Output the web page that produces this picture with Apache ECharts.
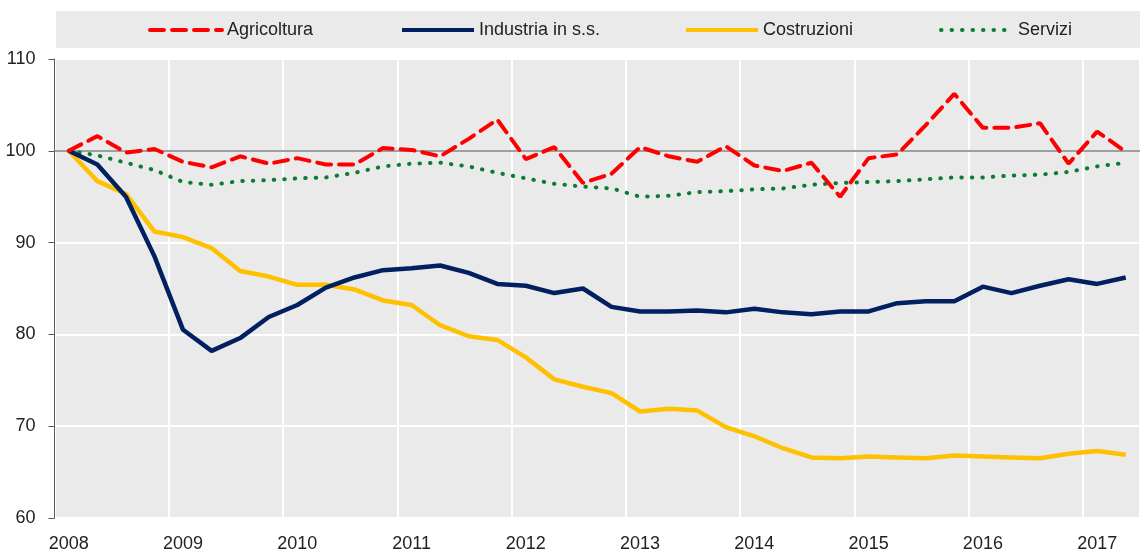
<!DOCTYPE html>
<html>
<head>
<meta charset="utf-8">
<script src="https://cdn.jsdelivr.net/npm/echarts@6/dist/echarts.min.js"></script>
<style>
  html, body { margin: 0; padding: 0; background: #fff; }
  #chart { width: 1140px; height: 553px; }
</style>
</head>
<body>
<div id="chart"></div>
<script>
// trimestri 2008T1 - 2017T2
const years = ['2008', '2009', '2010', '2011', '2012', '2013', '2014', '2015', '2016', '2017'];
const quarters = [];
years.forEach(y => {
  for (let q = 1; q <= 4; q++) {
    if (y === '2017' && q > 2) break;
    quarters.push(y + 'T' + q);
  }
});

const seriesNames = ['Agricoltura', 'Industria in s.s.', 'Costruzioni', 'Servizi'];

const agricoltura = [100, 101.6, 99.8, 100.2, 98.8, 98.2, 99.4, 98.6, 99.2, 98.5, 98.5, 100.3,
  100.1, 99.4, 101.3, 103.4, 99.1, 100.4, 96.5, 97.5, 100.4, 99.4, 98.8, 100.5,
  98.4, 97.8, 98.7, 95.0, 99.2, 99.6, 102.8, 106.2, 102.5, 102.5, 103.0, 98.6,
  102.1, 99.9];
const industria = [100, 98.5, 95.0, 88.5, 80.5, 78.2, 79.6, 81.9, 83.2, 85.1, 86.2, 87.0,
  87.2, 87.5, 86.7, 85.5, 85.3, 84.5, 85.0, 83.0, 82.5, 82.5, 82.6, 82.4,
  82.8, 82.4, 82.2, 82.5, 82.5, 83.4, 83.6, 83.6, 85.2, 84.5, 85.3, 86.0,
  85.5, 86.2];
const costruzioni = [100, 96.7, 95.3, 91.2, 90.6, 89.4, 86.9, 86.3, 85.4, 85.4, 84.9, 83.7,
  83.2, 81.0, 79.8, 79.4, 77.5, 75.1, 74.3, 73.6, 71.6, 71.9, 71.7, 69.9,
  68.9, 67.6, 66.6, 66.5, 66.7, 66.6, 66.5, 66.8, 66.7, 66.6, 66.5, 67.0,
  67.3, 66.9];
const servizi = [100, 99.5, 98.7, 97.9, 96.6, 96.3, 96.7, 96.8, 97.0, 97.1, 97.6, 98.3,
  98.6, 98.7, 98.3, 97.6, 97.0, 96.4, 96.1, 95.9, 95.0, 95.1, 95.5, 95.6,
  95.8, 95.9, 96.3, 96.5, 96.6, 96.7, 96.9, 97.1, 97.1, 97.3, 97.4, 97.7,
  98.3, 98.7];

const font = '"Liberation Sans Narrow", "Arial Narrow", "Liberation Sans", sans-serif';
const chart = echarts.init(document.getElementById('chart'));

// una legenda per voce, per posizionarle come nell'originale
const legendLeft = [148, 400, 684, 939];
const legends = seriesNames.map((name, i) => ({
  left: legendLeft[i],
  top: 21,
  padding: 0,
  itemWidth: 72,
  itemHeight: 14,
  itemStyle: { opacity: 0 },
  lineStyle: { width: 4 },
  textStyle: { fontFamily: font, fontSize: 18, color: '#222' },
  data: [name]
}));

chart.setOption({
  animation: false,
  textStyle: { fontFamily: font },
  graphic: [{
    type: 'rect',
    shape: { x: 56, y: 11, width: 1090, height: 37 },
    style: { fill: '#eaeaea' },
    silent: true,
    z: -1
  }],
  legend: legends,
  grid: {
    left: 54.5,
    right: -12,
    top: 59,
    bottom: 34,
    show: true,
    backgroundColor: '#eaeaea',
    borderWidth: 0
  },
  xAxis: {
    type: 'category',
    data: quarters,
    boundaryGap: true,
    axisLine: { show: false },
    axisTick: { show: false },
    axisLabel: {
      interval: (i) => i % 4 === 0,
      formatter: (v) => v.slice(0, 4),
      fontFamily: font,
      fontSize: 18,
      color: '#222',
      margin: 17
    },
    splitLine: {
      show: true,
      interval: (i) => i % 4 === 0,
      lineStyle: { color: '#ffffff', width: 2 }
    }
  },
  yAxis: {
    type: 'value',
    min: 60,
    max: 110,
    interval: 10,
    axisLine: { show: true, lineStyle: { color: '#595959', width: 1 } },
    axisTick: { show: true, length: 6, lineStyle: { color: '#595959' } },
    axisLabel: { fontFamily: font, fontSize: 18, color: '#222', margin: 19 },
    splitLine: { show: true, lineStyle: { color: '#ffffff', width: 2 } }
  },
  series: [
    {
      name: seriesNames[0],
      type: 'line',
      data: agricoltura,
      symbol: 'none',
      lineStyle: { color: '#ff0000', width: 4, type: [14, 8], cap: 'round' },
      itemStyle: { color: '#ff0000' },
      z: 5,
      markLine: {
        silent: true,
        symbol: 'none',
        label: { show: false },
        lineStyle: { color: '#7f7f7f', width: 1.5, type: 'solid' },
        data: [{ yAxis: 100 }],
        z: 1
      }
    },
    {
      name: seriesNames[1],
      type: 'line',
      data: industria,
      symbol: 'none',
      lineStyle: { color: '#002060', width: 4.5 },
      itemStyle: { color: '#002060' },
      z: 4
    },
    {
      name: seriesNames[2],
      type: 'line',
      data: costruzioni,
      symbol: 'none',
      lineStyle: { color: '#ffc000', width: 4.5 },
      itemStyle: { color: '#ffc000' },
      z: 3
    },
    {
      name: seriesNames[3],
      type: 'line',
      data: servizi,
      symbol: 'none',
      lineStyle: { color: '#0a7d33', width: 4, type: [0.5, 10], cap: 'round' },
      itemStyle: { color: '#0a7d33' },
      z: 2
    }
  ]
});
</script>
</body>
</html>
